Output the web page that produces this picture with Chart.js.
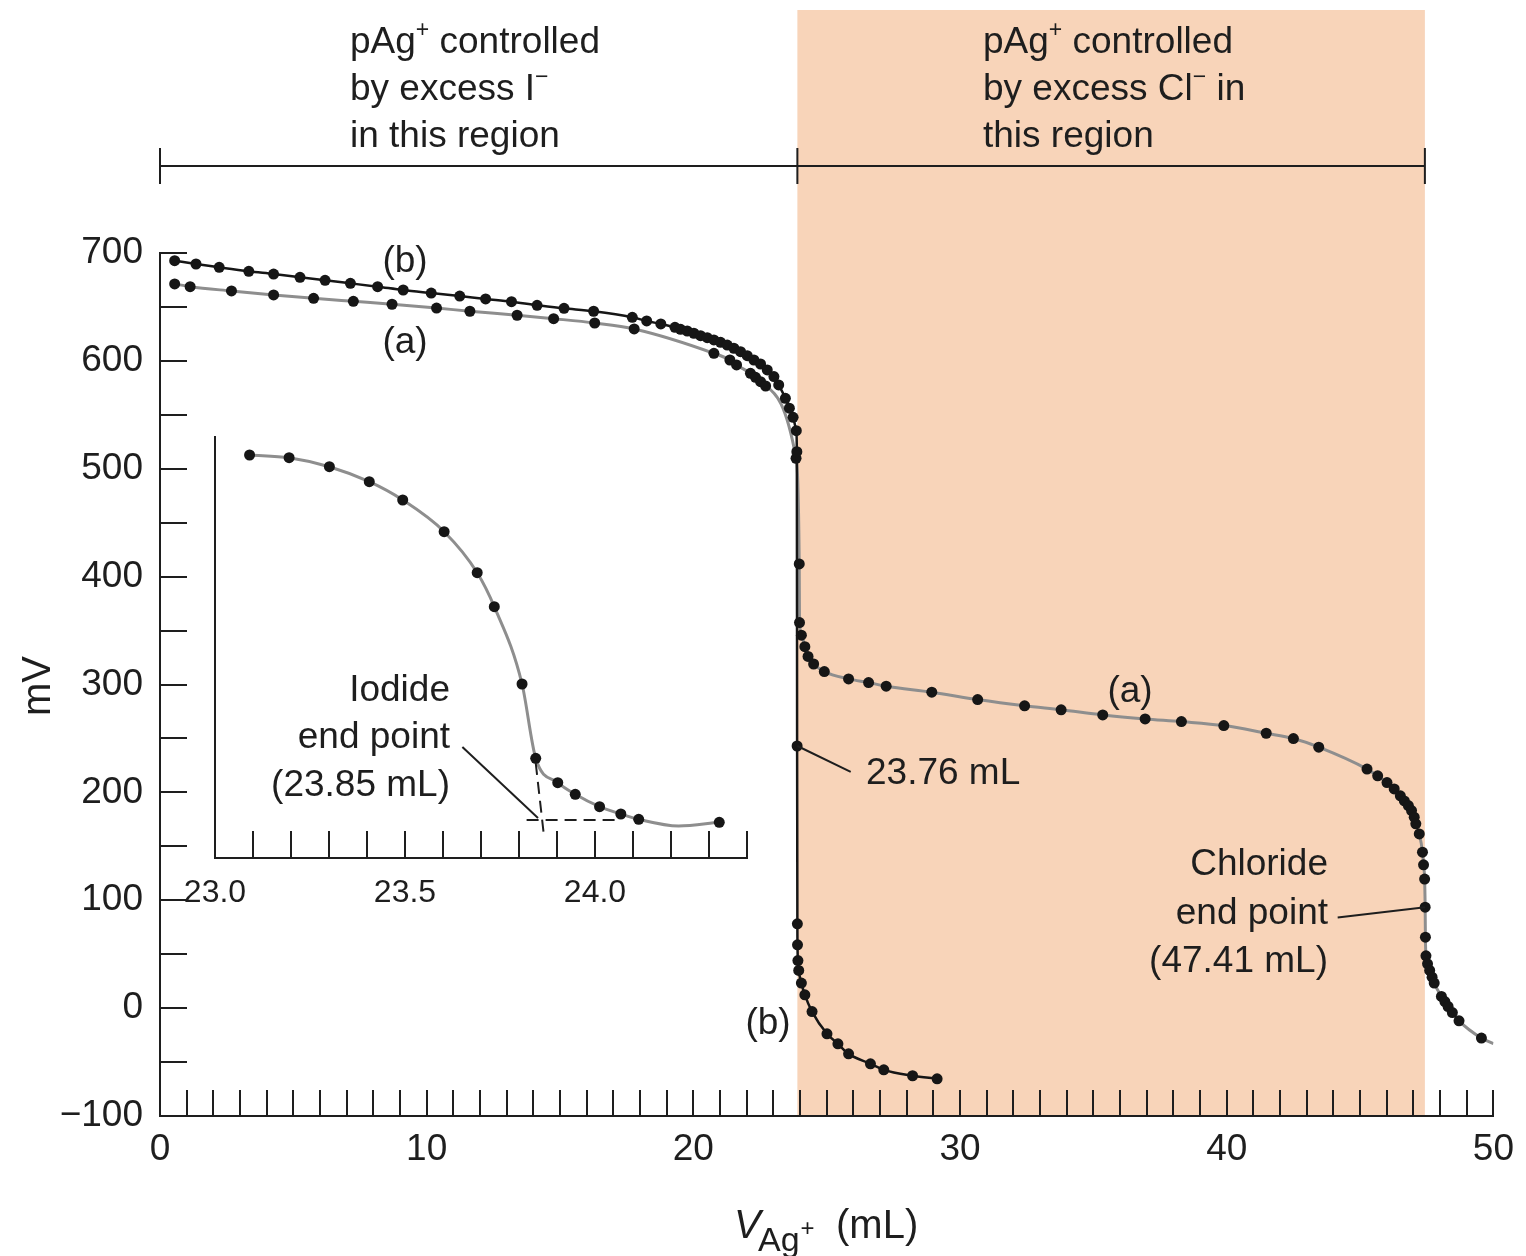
<!DOCTYPE html>
<html>
<head>
<meta charset="utf-8">
<script src="https://cdn.jsdelivr.net/npm/chart.js@4.4.1/dist/chart.umd.min.js"></script>
<style>
body{margin:0;background:#fff}
#wrap{position:relative;width:1526px;height:1256px}
canvas{position:absolute}
</style>
</head>
<body>
<div id="wrap">
<canvas id="mainChart" width="1526" height="1256" style="left:0;top:0"></canvas>
<canvas id="insetChart" width="620" height="520" style="left:160px;top:420px"></canvas>
</div>
<script>
// titration curve (a): gray line, dots
const aX=[0.55,1.13,2.68,4.26,5.76,7.25,8.70,10.37,11.62,13.39,14.76,16.30,17.78,20.77,21.37,21.62,22.14,22.33,22.52,22.71,23.85,23.97,23.98,24.05,24.18,24.30,24.51,24.91,25.82,26.57,27.23,28.94,30.66,32.42,33.79,35.35,36.94,38.30,39.89,41.48,42.50,43.45,45.26,45.66,46.01,46.28,46.51,46.66,46.81,46.93,47.03,47.09,47.22,47.34,47.38,47.42,47.44,47.45,47.47,47.53,47.61,47.70,47.78,48.05,48.18,48.30,48.46,48.71,49.55,50]
const aY=[671.3,668.8,664.8,661.1,658.0,655.2,652.5,649.0,646.0,642.3,639.1,635.1,629.6,607.0,600.8,596.2,588.5,584.8,580.7,576.7,509.7,411.8,357.4,345.7,335.1,326.0,319.0,312.0,305.2,301.8,298.4,292.9,286.0,280.2,276.5,271.8,268.1,265.6,261.9,254.8,249.9,241.9,221.6,215.3,209.1,203.2,196.8,192.1,187.8,183.1,177.0,170.8,161.5,144.6,132.8,119.6,93.6,65.8,48.5,41.1,34.9,28.7,23.2,10.8,6.1,1.5,-4.1,-11.8,-27.8,-33]
// curve (b): black line, dots
const bX=[0.55,1.35,2.22,3.33,4.26,5.25,6.19,7.14,8.16,9.12,10.17,11.24,12.21,13.18,14.14,15.15,16.26,17.71,18.25,18.78,19.31,19.52,19.77,20.02,20.27,20.52,20.77,21.02,21.27,21.52,21.77,22.02,22.27,22.52,22.77,23.02,23.20,23.45,23.60,23.74,23.86,23.88,23.89,23.90,23.905,23.92,23.95,24.05,24.18,24.45,25.01,25.42,25.82,26.64,27.14,28.22,29.14]
const bY=[692.9,689.8,686.7,683.0,680.5,677.5,674.7,671.9,668.8,665.7,662.9,660.1,657.4,654.9,651.5,648.7,646.0,640.4,637.0,634.2,631.1,629.3,627.7,625.6,623.4,621.5,619.4,617.2,614.7,611.7,608.5,604.8,600.8,597.1,591.6,585.4,577.7,565.3,556.1,547.7,535.3,515.8,243,78.1,58.7,44.1,34.9,23.2,12.3,-3.2,-23.8,-33.1,-42.4,-51.6,-57.2,-62.7,-65.5]
// inset: expanded view near iodide end point (y unlabelled)
const insetX=[23.091,23.195,23.301,23.406,23.494,23.603,23.690,23.735,23.808,23.844,23.902,23.948,24.012,24.068,24.115,24.22,24.327]
const insetY=[403,400.3,391.3,376.3,358,326.3,285.3,251.3,174,99.7,75.3,63.7,51.3,44,38.7,32,35.7]
const iodideEnd=23.85
const chlorideEnd=47.43
const splitAt=23.9
const xTickLabels=[0,10,20,30,40,50]
const yTickLabels=[-100,0,100,200,300,400,500,600,700]
const insetTickLabels=[23.0,23.5,24.0]

const FONT="'Liberation Sans', Arial, sans-serif"
const INK='#1e1e1e'
Chart.defaults.font.family=FONT
Chart.defaults.color=INK

function pts(xs,ys){return xs.map((x,i)=>({x:x,y:ys[i]}))}
function near(v,list){return list.some(t=>Math.abs(t-v)<1e-6)}

function runs(ctx,x,y,parts,size,align){
  // parts: [text, 'sup'|undefined]
  let w=0
  parts.forEach(p=>{ctx.font=(p[1]?Math.round(size*0.62):size)+'px '+FONT;w+=ctx.measureText(p[0]).width})
  let cx=align==='right'?x-w:(align==='center'?x-w/2:x)
  ctx.textAlign='left'
  ctx.textBaseline='alphabetic'
  parts.forEach(p=>{
    const s=p[1]?Math.round(size*0.62):size
    ctx.font=s+'px '+FONT
    const dy=p[1]==='sup'?-size*0.42:0
    ctx.fillText(p[0],cx,y+dy)
    cx+=ctx.measureText(p[0]).width
  })
}

const mainDeco={
  id:'mainDeco',
  beforeDraw(chart){
    const {ctx,chartArea:a,scales:{x}}=chart
    const x0=x.getPixelForValue(splitAt),x1=x.getPixelForValue(chlorideEnd)
    ctx.save()
    ctx.fillStyle='#f8d4b9'
    ctx.fillRect(x0,10,x1-x0,a.bottom-10)
    ctx.restore()
  },
  afterDraw(chart){
    const {ctx,chartArea:a,scales:{x,y}}=chart
    ctx.save()
    ctx.strokeStyle=INK
    ctx.lineWidth=2
    ctx.beginPath()
    for(let v=1;v<=50;v++){const px=Math.round(x.getPixelForValue(v));ctx.moveTo(px,a.bottom);ctx.lineTo(px,a.bottom-26)}
    for(let v=-50;v<=700;v+=50){const py=Math.round(y.getPixelForValue(v));ctx.moveTo(a.left,py);ctx.lineTo(a.left+27,py)}
    ctx.stroke()

    // region bracket
    const b0=x.getPixelForValue(0),b1=x.getPixelForValue(splitAt),b2=x.getPixelForValue(chlorideEnd)
    ctx.beginPath()
    ctx.moveTo(b0,166);ctx.lineTo(b2,166)
    ;[b0,b1,b2].forEach(p=>{ctx.moveTo(p,148);ctx.lineTo(p,184)})
    ctx.stroke()

    // leaders
    ctx.beginPath()
    ctx.moveTo(x.getPixelForValue(23.9),y.getPixelForValue(243))
    ctx.lineTo(x.getPixelForValue(25.9),y.getPixelForValue(219))
    ctx.moveTo(x.getPixelForValue(44.16),y.getPixelForValue(84))
    ctx.lineTo(x.getPixelForValue(47.44),y.getPixelForValue(93.6))
    ctx.stroke()

    ctx.fillStyle=INK
    const fs=37
    runs(ctx,350,53,[['pAg'],['+','sup'],[' controlled']],fs)
    runs(ctx,350,100,[['by excess I'],['\u2212','sup']],fs)
    runs(ctx,350,147,[['in this region']],fs)
    runs(ctx,983,53,[['pAg'],['+','sup'],[' controlled']],fs)
    runs(ctx,983,100,[['by excess Cl'],['\u2212','sup'],[' in']],fs)
    runs(ctx,983,147,[['this region']],fs)

    runs(ctx,405,272,[['(b)']],fs,'center')
    runs(ctx,405,353,[['(a)']],fs,'center')
    runs(ctx,1130,702,[['(a)']],fs,'center')
    runs(ctx,768,1034,[['(b)']],fs,'center')
    runs(ctx,866,784,[['23.76 mL']],fs)
    runs(ctx,1328,875,[['Chloride']],fs,'right')
    runs(ctx,1328,924,[['end point']],fs,'right')
    runs(ctx,1328,972,[['(47.41 mL)']],fs,'right')

    // axis titles
    ctx.font='italic 40px '+FONT
    ctx.textAlign='left'
    ctx.fillText('V',734,1238)
    ctx.font='34px '+FONT
    ctx.fillText('Ag',758,1251)
    const agw=ctx.measureText('Ag').width
    ctx.font='24px '+FONT
    ctx.fillText('+',758+agw+1,1236)
    ctx.font='40px '+FONT
    ctx.fillText('(mL)',836,1238)

    ctx.translate(50,686)
    ctx.rotate(-Math.PI/2)
    ctx.textAlign='center'
    ctx.fillText('mV',0,0)
    ctx.restore()
  }
}

new Chart(document.getElementById('mainChart'),{
  type:'scatter',
  data:{datasets:[
    {label:'(b)',data:pts(bX,bY),showLine:true,borderColor:'#161616',borderWidth:2.5,
     pointRadius:5.5,pointBackgroundColor:'#161616',pointBorderWidth:0,cubicInterpolationMode:'monotone'},
    {label:'(a)',data:pts(aX,aY),showLine:true,borderColor:'#8e8e8e',borderWidth:3,
     pointRadius:c=>c.dataIndex===aX.length-1?0:5.5,pointBackgroundColor:'#161616',pointBorderWidth:0,cubicInterpolationMode:'monotone'}
  ]},
  options:{
    responsive:false,animation:false,
    layout:{padding:{top:253,right:30,left:0,bottom:0}},
    plugins:{legend:{display:false},tooltip:{enabled:false}},
    scales:{
      x:{type:'linear',min:0,max:50,
        ticks:{stepSize:1,autoSkip:false,maxRotation:0,padding:12,font:{size:37},color:INK,
          callback:v=>near(v,xTickLabels)?String(v):''},
        grid:{display:true,drawOnChartArea:false,drawTicks:false},
        border:{color:INK,width:2},
        afterFit:s=>{s.height=140}},
      y:{type:'linear',min:-100,max:700,
        ticks:{stepSize:50,autoSkip:false,padding:17,font:{size:37},color:INK,
          callback:v=>near(v,yTickLabels)?(v<0?'\u2212'+Math.abs(v):String(v)):''},
        grid:{display:true,drawOnChartArea:false,drawTicks:false},
        border:{color:INK,width:2},
        afterFit:s=>{s.width=160}}
    }
  },
  plugins:[mainDeco]
})

const insetDeco={
  id:'insetDeco',
  afterDraw(chart){
    const {ctx,chartArea:a,scales:{x,y}}=chart
    ctx.save()
    ctx.strokeStyle=INK
    ctx.lineWidth=2
    ctx.beginPath()
    for(let i=1;i<=14;i++){const px=Math.round(x.getPixelForValue(23+i/10));ctx.moveTo(px,a.bottom);ctx.lineTo(px,a.bottom-27)}
    ctx.stroke()
    // end point construction
    ctx.setLineDash([12,7])
    ctx.beginPath()
    ctx.moveTo(x.getPixelForValue(23.82),y.getPixelForValue(38));ctx.lineTo(x.getPixelForValue(24.07),y.getPixelForValue(38))
    ctx.moveTo(x.getPixelForValue(23.844),y.getPixelForValue(95));ctx.lineTo(x.getPixelForValue(23.866),y.getPixelForValue(21))
    ctx.stroke()
    ctx.setLineDash([])
    ctx.beginPath()
    ctx.moveTo(x.getPixelForValue(23.651),y.getPixelForValue(111));ctx.lineTo(x.getPixelForValue(iodideEnd),y.getPixelForValue(40))
    ctx.stroke()
    ctx.fillStyle=INK
    runs(ctx,290,281,[['Iodide']],37,'right')
    runs(ctx,290,328,[['end point']],37,'right')
    runs(ctx,290,376,[['(23.85 mL)']],37,'right')
    ctx.restore()
  }
}

new Chart(document.getElementById('insetChart'),{
  type:'scatter',
  data:{datasets:[
    {data:pts(insetX,insetY),showLine:true,borderColor:'#8e8e8e',borderWidth:3,
     pointRadius:c=>c.dataIndex===15?0:5.5,pointBackgroundColor:'#161616',pointBorderWidth:0,cubicInterpolationMode:'monotone'}
  ]},
  options:{
    responsive:false,animation:false,
    layout:{padding:{top:17,right:33,left:55,bottom:0}},
    plugins:{legend:{display:false},tooltip:{enabled:false}},
    scales:{
      x:{type:'linear',min:23,max:24.4,
        ticks:{stepSize:0.1,autoSkip:false,maxRotation:0,padding:16,font:{size:32},color:INK,
          callback:v=>near(v,insetTickLabels)?v.toFixed(1):''},
        grid:{display:true,drawOnChartArea:false,drawTicks:false},
        border:{color:INK,width:2},
        afterFit:s=>{s.height=82}},
      y:{type:'linear',min:0,max:421,
        ticks:{display:false},
        grid:{display:true,drawOnChartArea:false,drawTicks:false},
        border:{color:INK,width:2},
        afterFit:s=>{s.width=0}}
    }
  },
  plugins:[insetDeco]
})
</script>
</body>
</html>
